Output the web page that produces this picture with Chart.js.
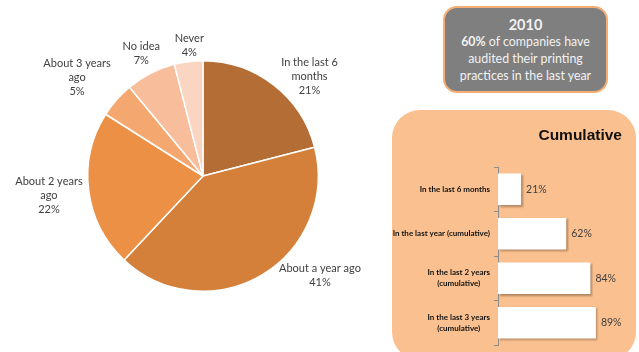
<!DOCTYPE html>
<html>
<head>
<meta charset="utf-8">
<script src="https://cdn.jsdelivr.net/npm/chart.js@4.4.0/dist/chart.umd.min.js"></script>
<style>
  body { margin: 0; background: #fff; font-family: Lato, sans-serif; }
  #wrap { position: relative; width: 639px; height: 352px; overflow: hidden; }
  #pie { position: absolute; left: 0; top: 0; }
  #note {
    position: absolute; left: 443px; top: 6px; width: 161px; height: 83px;
    background: #7f7f7f; border: 2px solid #f7ae74; border-radius: 14px;
    color: #f2f2f2; text-align: center; font-size: 12.4px; line-height: 16.8px;
  }
  #note .year { font-weight: bold; font-size: 14.5px; line-height: 18px; padding-top: 8px; }
  #panel {
    position: absolute; left: 392px; top: 110px; width: 244px; height: 250px;
    background: #fac090; border-radius: 28px;
  }
  #panel .title {
    position: absolute; right: 14px; top: 16px;
    font-family: "Liberation Sans", Arial, sans-serif; font-weight: bold; font-size: 15.5px;
    color: #111;
  }
  #bars { position: absolute; left: 0; top: 0; }
</style>
</head>
<body>
<div id="wrap">
  <canvas id="pie" width="400" height="352"></canvas>
  <div id="note">
    <div class="year">2010</div>
    <div><b>60%</b> of companies have</div>
    <div>audited their printing</div>
    <div>practices in the last year</div>
  </div>
  <div id="panel">
    <div class="title">Cumulative</div>
    <canvas id="bars" width="244" height="242"></canvas>
  </div>
</div>
<script>
// when did the company last audit its printing practices
const pieLabels = [
  ['In the last 6', 'months'],
  ['About a year ago'],
  ['About 2 years', 'ago'],
  ['About 3 years', 'ago'],
  ['No idea'],
  ['Never'],
];
const pieValues = [21, 41, 22, 5, 7, 4];
const pieColors = ['#b46d35', '#d4803b', '#eb9045', '#f5a770', '#f8be9c', '#fad5c2'];
// label nudges from the default spot outside each slice
const pieNudge = [[15, 18], [41, -29], [-6, 1], [-14, 0], [6, 10], [5, 18]];

const barLabels = [
  ['In the last 6 months'],
  ['In the last year (cumulative)'],
  ['In the last 2 years', '(cumulative)'],
  ['In the last 3 years', '(cumulative)'],
];
const barValues = [21, 62, 84, 89];

const textGray = '#404040';

const pieLabelPlugin = {
  id: 'pieLabels',
  afterDatasetsDraw(chart) {
    const ctx = chart.ctx;
    const meta = chart.getDatasetMeta(0);
    ctx.save();
    ctx.font = '11px Lato';
    ctx.fillStyle = textGray;
    ctx.textAlign = 'center';
    ctx.textBaseline = 'middle';
    meta.data.forEach((arc, i) => {
      const mid = (arc.startAngle + arc.endAngle) / 2;
      const r = arc.outerRadius + 34;
      const cx = arc.x + r * Math.cos(mid) + pieNudge[i][0];
      const cy = arc.y + r * Math.sin(mid) + pieNudge[i][1];
      const lines = pieLabels[i].concat([pieValues[i] + '%']);
      const lh = 14;
      const top = cy - (lines.length - 1) * lh / 2;
      lines.forEach((t, j) => ctx.fillText(t, cx, top + j * lh));
    });
    ctx.restore();
  }
};

new Chart(document.getElementById('pie'), {
  type: 'pie',
  data: {
    labels: pieLabels.map(l => l.join(' ')),
    datasets: [{
      data: pieValues,
      backgroundColor: pieColors,
      borderColor: '#ffffff',
      borderWidth: 1.5,
    }],
  },
  options: {
    responsive: false,
    animation: false,
    layout: { padding: { left: 87, right: 81, top: 60, bottom: 60 } },
    plugins: { legend: { display: false }, tooltip: { enabled: false } },
  },
  plugins: [pieLabelPlugin],
});

// white bars with a soft drop shadow, category text and value labels
const barDecor = {
  id: 'barDecor',
  beforeDatasetsDraw(chart) {
    const ctx = chart.ctx;
    ctx.save();
    ctx.shadowColor = 'rgba(90, 60, 30, 0.45)';
    ctx.shadowBlur = 2;
    ctx.shadowOffsetX = 1.5;
    ctx.shadowOffsetY = 1.5;
  },
  afterDatasetsDraw(chart) {
    const ctx = chart.ctx;
    ctx.restore();
    const meta = chart.getDatasetMeta(0);
    const yScale = chart.scales.y;
    ctx.save();
    ctx.textBaseline = 'middle';
    ctx.fillStyle = textGray;
    ctx.font = '10.5px Lato';
    ctx.textAlign = 'left';
    meta.data.forEach((bar, i) => {
      ctx.fillText(barValues[i] + '%', bar.x + 5, bar.y);
    });
    ctx.fillStyle = '#111111';
    ctx.font = 'bold 8px Lato';
    ctx.textAlign = 'center';
    const right = yScale.right - 8;
    barLabels.forEach((lines, i) => {
      const w = Math.max(...lines.map(t => ctx.measureText(t).width));
      const y = yScale.getPixelForTick(i);
      const lh = 11;
      const top = y - (lines.length - 1) * lh / 2;
      lines.forEach((t, j) => ctx.fillText(t, right - w / 2, top + j * lh));
    });
    ctx.restore();
  }
};

new Chart(document.getElementById('bars'), {
  type: 'bar',
  data: {
    labels: barLabels.map(l => l.join(' ')),
    datasets: [{
      data: barValues,
      backgroundColor: '#ffffff',
      borderWidth: 0,
      barPercentage: 0.71,
      categoryPercentage: 1,
    }],
  },
  options: {
    indexAxis: 'y',
    responsive: false,
    animation: false,
    layout: { padding: { left: 102, right: 28, top: 57, bottom: 7 } },
    scales: {
      x: { display: false, min: 0, max: 100 },
      y: {
        ticks: { display: false },
        grid: { drawOnChartArea: false, drawTicks: true, tickLength: 4, color: '#8c8c8c' },
        border: { color: '#8c8c8c', width: 1 },
      },
    },
    plugins: { legend: { display: false }, tooltip: { enabled: false } },
  },
  plugins: [barDecor],
});
</script>
</body>
</html>
